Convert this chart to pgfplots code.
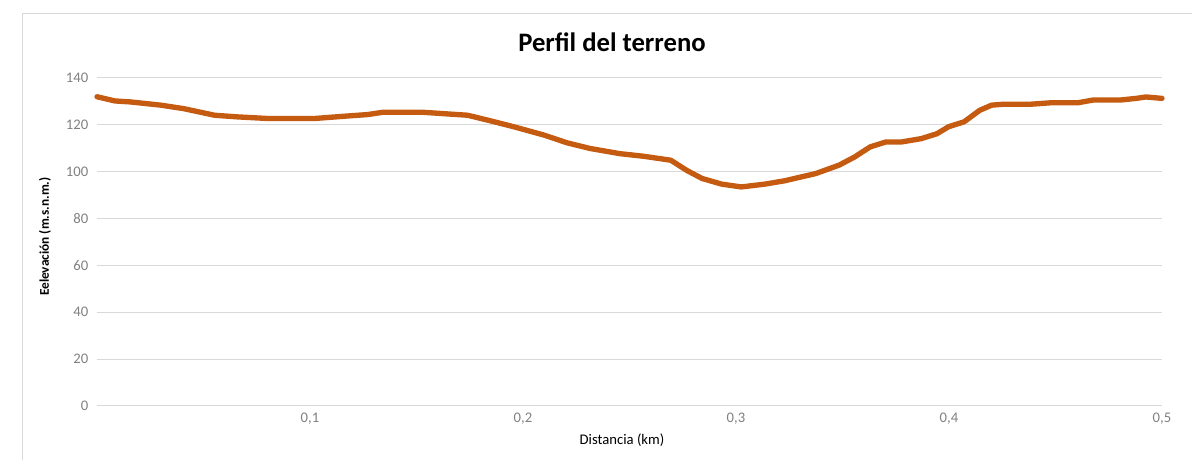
\documentclass[border=0pt]{standalone}
\usepackage{pgfplots}
\pgfplotsset{compat=1.18}
\usepackage{fontspec}
\setmainfont{Carlito}
\definecolor{linea}{HTML}{C55A11}
\definecolor{rejilla}{HTML}{D9D9D9}
\definecolor{ticks}{HTML}{808080}
\begin{document}
\begin{tikzpicture}
\begin{axis}[
  scale only axis,
  width=798.75pt, height=246pt,
  xmin=0, xmax=0.5, ymin=0, ymax=140,
  xtick={0.1,0.2,0.3,0.4,0.5},
  xticklabels={{0,1},{0,2},{0,3},{0,4},{0,5}},
  ytick={0,20,...,140},
  ymajorgrids,
  grid style={rejilla, line width=0.75pt},
  axis line style={draw=none},
  tick style={draw=none},
  tick label style={font=\fontsize{11}{13}\selectfont, text=ticks},
  /pgf/number format/assume math mode=true,
  yticklabel style={xshift=-3pt},
  xticklabel style={yshift=-2pt},
  clip=false,
]
\addplot[linea, line width=4pt, line join=round, line cap=round] coordinates {
(0.000,132.0) (0.0084,130.2) (0.0155,129.8) (0.0228,129.1) (0.030,128.4)
(0.0408,126.9) (0.048,125.5) (0.0552,124.1) (0.066,123.4) (0.0804,122.7)
(0.102,122.7) (0.1164,123.7) (0.1272,124.4) (0.1344,125.4) (0.1524,125.4)
(0.174,124.1) (0.1848,121.7) (0.1956,119.2) (0.210,115.6) (0.2208,112.3)
(0.2316,109.9) (0.2455,107.7) (0.2566,106.6) (0.2694,104.9) (0.2768,100.6)
(0.2841,97.1) (0.2933,94.7) (0.3025,93.5) (0.3135,94.7) (0.3227,96.1)
(0.3374,99.2) (0.3484,102.8) (0.3557,106.3) (0.363,110.6) (0.3704,112.7)
(0.3777,112.7) (0.3869,114.1) (0.3943,116.2) (0.3998,119.2) (0.4071,121.3)
(0.4144,126.2) (0.420,128.4) (0.4254,128.8) (0.4383,128.8) (0.4475,129.4)
(0.4603,129.4) (0.4677,130.6) (0.4805,130.6) (0.4879,131.3) (0.4925,131.9)
(0.500,131.3)
};
\end{axis}
\path[use as bounding box] (-72.75pt,-40.5pt) rectangle (821.25pt,304.5pt);
\draw[rejilla, line width=0.75pt] (-55.5pt,-41pt) -- (-55.5pt,294pt) -- (822pt,294pt);
\node[font=\fontsize{20}{24}\selectfont\bfseries] at (386.25pt,272.75pt) {Perfil del terreno};
\node[font=\fontsize{11}{13}\selectfont] at (393.75pt,-25.5pt) {Distancia (km)};
\node[font=\fontsize{10}{12}\selectfont\bfseries, rotate=90] at (-39pt,127pt) {Eelevación (m.s.n.m.)};
\end{tikzpicture}
\end{document}
